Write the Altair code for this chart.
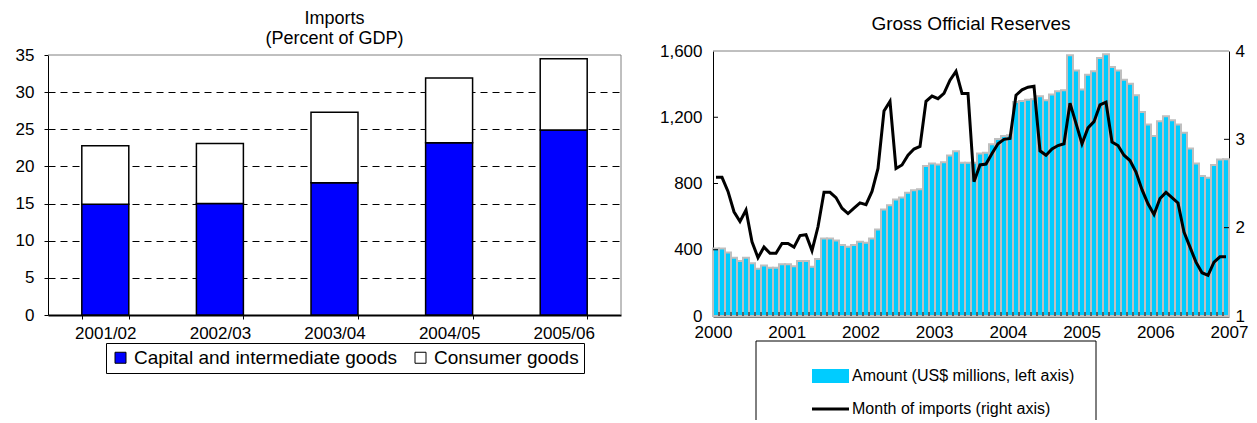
import altair as alt
import numpy as np
import pandas as pd

FONT = "Liberation Sans"
FRAME = "#808080"

# ---------------- left panel data ----------------
periods = ["2001/02", "2002/03", "2003/04", "2004/05", "2005/06"]
capital_goods = [14.9, 15.0, 17.8, 23.2, 24.9]
consumer_goods = [7.9, 8.1, 9.5, 8.7, 9.6]
left_series = ["Capital and intermediate goods", "Consumer goods"]
left_colors = ["#0000FF", "#FFFFFF"]
left_ticks = [0, 5, 10, 15, 20, 25, 30, 35]

# ---------------- right panel data ----------------
reserves = [408, 408, 384, 352, 332, 352, 318, 285, 305, 291,
            291, 312, 312, 301, 332, 332, 297, 344, 468, 468,
            456, 428, 418, 428, 448, 442, 468, 523, 643, 669,
            704, 716, 744, 760, 766, 905, 921, 915, 929, 969,
            995, 925, 925, 925, 981, 985, 1037, 1069, 1087, 1091,
            1292, 1298, 1306, 1308, 1327, 1302, 1337, 1357, 1363, 1574,
            1483, 1367, 1457, 1477, 1558, 1580, 1503, 1483, 1427, 1403,
            1333, 1232, 1156, 1087, 1176, 1206, 1182, 1156, 1106, 1011,
            921, 846, 834, 911, 945, 947]
import_months = [2.57, 2.57, 2.41, 2.18, 2.07, 2.20, 1.84, 1.66, 1.78, 1.71,
                 1.71, 1.82, 1.82, 1.78, 1.91, 1.92, 1.74, 2.01, 2.40, 2.40,
                 2.34, 2.22, 2.16, 2.22, 2.28, 2.26, 2.41, 2.67, 3.32, 3.43,
                 2.67, 2.71, 2.82, 2.89, 2.92, 3.43, 3.49, 3.46, 3.52, 3.67,
                 3.77, 3.52, 3.52, 2.52, 2.71, 2.72, 2.84, 2.95, 3.00, 3.01,
                 3.50, 3.56, 3.59, 3.60, 2.87, 2.82, 2.89, 2.93, 2.95, 3.41,
                 3.18, 2.95, 3.13, 3.20, 3.39, 3.42, 2.97, 2.93, 2.82, 2.76,
                 2.63, 2.43, 2.27, 2.15, 2.33, 2.40, 2.34, 2.28, 1.95, 1.78,
                 1.61, 1.49, 1.46, 1.61, 1.67, 1.67]
year_labels = ["2000", "2001", "2002", "2003", "2004", "2005", "2006", "2007"]
reserve_ticks = [0, 400, 800, 1200, 1600]
month_ticks = [1, 2, 3, 4]
right_series = ["Amount (US$ millions, left axis)", "Month of imports (right axis)"]
right_colors = ["#00CCFF", "#000000"]

AX_FS = 17

# ================= left chart =================
rows = []
for p, c, k in zip(periods, capital_goods, consumer_goods):
    rows.append({"period": p, "series": left_series[0], "value": c, "ord": 0})
    rows.append({"period": p, "series": left_series[1], "value": k, "ord": 1})
df_left = pd.DataFrame(rows)
df_ltop = pd.DataFrame({"v": [left_ticks[-1]]})

WL, HL, TOPGAP = 573, 264, 4
yl_scale = alt.Scale(domain=[left_ticks[0], left_ticks[-1]], nice=False, range=[HL, TOPGAP])
yl_axis = alt.Axis(values=left_ticks, grid=True, gridColor="black", gridDash=[7, 5],
                   gridOpacity={"condition": {"test": "datum.value >= 35 || datum.value <= 0", "value": 0}, "value": 1},
                   tickSize=4, labelPadding=10)
xl = alt.X("period:N", sort=periods, title=None,
           scale=alt.Scale(paddingInner=0.59, paddingOuter=0.295),
           axis=alt.Axis(labelAngle=0, tickBand="extent", tickSize=4,
                         domainWidth=2, labelPadding=6))

left_bars = alt.Chart(df_left).mark_bar(stroke="black", strokeWidth=1.5).encode(
    x=xl,
    y=alt.Y("value:Q", stack="zero", title=None, scale=yl_scale, axis=yl_axis),
    fill=alt.Fill("series:N", scale=alt.Scale(domain=left_series, range=left_colors),
                  legend=alt.Legend(title=None, orient="none", legendX=58, legendY=292,
                                    direction="horizontal", symbolType="square",
                                    symbolSize=121, symbolStrokeColor="black",
                                    symbolStrokeWidth=1, strokeColor="black",
                                    fillColor="white", padding=5, columnPadding=13,
                                    labelOffset=4, labelLimit=0, labelFontSize=19)),
    order=alt.Order("ord:Q"),
)
left_topline = alt.Chart(df_ltop).mark_rule(color=FRAME).encode(
    y=alt.Y("v:Q", scale=yl_scale, axis=yl_axis, title=None),
    x=alt.value(0), x2=alt.value(WL),
)
left_rightline = alt.Chart(df_ltop).mark_rule(color=FRAME).encode(
    y=alt.Y("v:Q", scale=yl_scale, axis=yl_axis, title=None),
    y2=alt.datum(0),
    x=alt.value(WL),
)
left = alt.layer(left_bars, left_topline, left_rightline).properties(
    width=WL, height=HL,
    title=alt.TitleParams(["Imports", "(Percent of GDP)"], anchor="middle",
                          offset=0, lineHeight=20, fontSize=18, dy=2),
)

# ================= right chart =================
n = len(reserves)
df_r = pd.DataFrame({"m0": np.arange(n), "res": reserves, "moi": import_months})
df_r["m1"] = df_r["m0"] + 1
df_r["mid"] = df_r["m0"] + 0.5
df_mticks = pd.DataFrame({"b": np.arange(1, n)})
df_lt = pd.DataFrame({"v": reserve_ticks[1:-1]})
df_rtop = pd.DataFrame({"v": [reserve_ticks[-1]]})
df_rt = pd.DataFrame({"v": month_ticks[1:-1]})

nyears = len(year_labels) - 1
year_pos = [k * n / nyears for k in range(len(year_labels))]
label_expr = f"'' + ({int(year_labels[0])} + round(datum.value * {nyears} / {n}))"

WR, HR = 516, 265
xscale = alt.Scale(domain=[0, n], nice=False, zero=False)
xaxis = alt.Axis(values=year_pos, labelExpr=label_expr, ticks=False, domainWidth=2,
                 labelFlush=False, labelOverlap=False, labelPadding=8, grid=False)
lscale = alt.Scale(domain=[0, 1600], nice=False)
laxis = alt.Axis(values=reserve_ticks, format=",.0f", ticks=False, labelPadding=11, grid=False)
rscale = alt.Scale(domain=[1, 4], nice=False, zero=False)
raxis = alt.Axis(orient="right", values=month_ticks, ticks=False, labelPadding=6, grid=False)

bars = alt.Chart(df_r).mark_rect(fill="#00CCFF", stroke="#BFBFBF", strokeWidth=2).encode(
    x=alt.X("m0:Q", scale=xscale, axis=xaxis, title=None),
    x2="m1",
    y=alt.Y("res:Q", scale=lscale, axis=laxis, title=None),
    y2=alt.datum(0),
)
rtop = alt.Chart(df_rtop).mark_rule(color=FRAME).encode(
    y=alt.Y("v:Q", scale=lscale, axis=laxis, title=None),
    x=alt.value(0), x2=alt.value(WR),
)
lt = alt.Chart(df_lt).mark_rule(color="black").encode(
    y=alt.Y("v:Q", scale=lscale, axis=laxis, title=None),
    x=alt.value(0), x2=alt.value(5),
)
mt = alt.Chart(df_mticks).mark_rule(color="black").encode(
    x=alt.X("b:Q", scale=xscale, axis=xaxis, title=None),
    y=alt.value(HR), y2=alt.value(HR - 4),
)
line = alt.Chart(df_r).mark_line(color="black", strokeWidth=3).encode(
    x=alt.X("mid:Q", scale=xscale, axis=xaxis, title=None),
    y=alt.Y("moi:Q", scale=rscale, axis=raxis, title=None),
)
rt = alt.Chart(df_rt).mark_rule(color="black").encode(
    y=alt.Y("v:Q", scale=rscale, axis=raxis, title=None),
    x=alt.value(WR - 5), x2=alt.value(WR),
)

# legend (drawn below the plot)
leg1 = pd.DataFrame({"label": [right_series[0]]})
leg2 = pd.DataFrame({"label": [right_series[1]]})
BX0, BX1, BY0, BY1 = 43, 383, 290, 369
box_top = alt.Chart(leg1).mark_rule(color="black").encode(
    x=alt.value(BX0), x2=alt.value(BX1), y=alt.value(BY0))
box_l = alt.Chart(leg1).mark_rule(color="black").encode(
    x=alt.value(BX0), y=alt.value(BY0), y2=alt.value(BY1))
box_r = alt.Chart(leg1).mark_rule(color="black").encode(
    x=alt.value(BX1), y=alt.value(BY0), y2=alt.value(BY1))
patch = alt.Chart(leg1).mark_rect(fill=right_colors[0]).encode(
    x=alt.value(99), x2=alt.value(136), y=alt.value(318), y2=alt.value(332))
txt1 = alt.Chart(leg1).mark_text(align="left", baseline="middle", font=FONT,
                                 fontSize=16, color="black").encode(
    text="label:N", x=alt.value(139), y=alt.value(325))
glyph = alt.Chart(leg2).mark_rule(color=right_colors[1], strokeWidth=3).encode(
    x=alt.value(99), x2=alt.value(136), y=alt.value(358))
txt2 = alt.Chart(leg2).mark_text(align="left", baseline="middle", font=FONT,
                                 fontSize=16, color="black").encode(
    text="label:N", x=alt.value(139), y=alt.value(358))

g_left = alt.layer(rtop, bars, lt, mt)
g_right = alt.layer(line, rt, box_top, box_l, box_r, patch, txt1, glyph, txt2)
right = alt.layer(g_left, g_right).resolve_scale(y="independent").properties(
    width=WR, height=HR,
    title=alt.TitleParams("Gross Official Reserves", anchor="middle", offset=8, fontSize=19),
)

chart = alt.hconcat(left, right, spacing=36).properties(
    padding={"left": 14, "top": 9, "right": 0, "bottom": 0}
).configure_view(stroke="transparent").configure_axis(
    labelFont=FONT, labelFontSize=AX_FS, labelColor="black",
    domainColor="black", tickColor="black",
).configure_title(
    font=FONT, fontWeight="normal", color="black",
).configure_legend(
    labelFont=FONT, labelFontSize=16, labelColor="black",
)

chart.save("out.html", embed_options={"renderer": "svg", "actions": False})
